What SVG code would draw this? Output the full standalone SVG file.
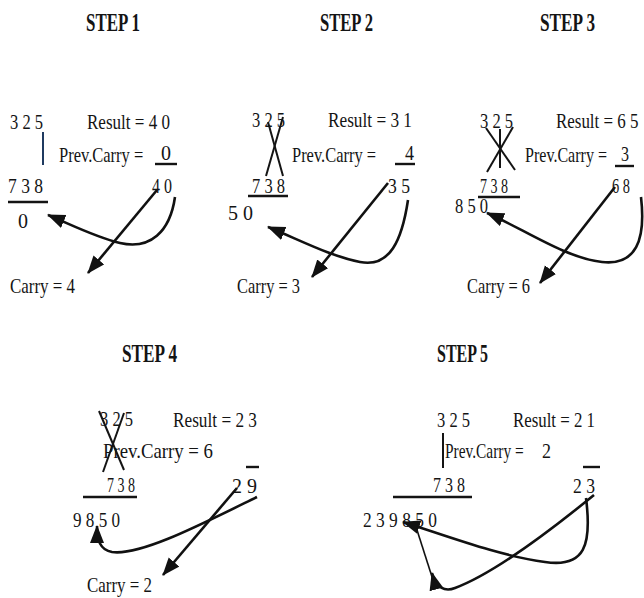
<svg xmlns="http://www.w3.org/2000/svg" width="644" height="598" viewBox="0 0 644 598">
<defs>
<style>
text{font-family:"Liberation Serif","Times New Roman",serif;fill:#141414;font-size:22px}
.h{font-weight:bold;font-size:26px}
.ln{stroke:#141414;stroke-width:2;fill:none}
.ul{stroke:#141414;stroke-width:2.4;fill:none}
.ar{stroke:#111;stroke-width:2.6;fill:none;marker-end:url(#ah)}
.thin{stroke:#111;stroke-width:1.6;fill:none}
</style>
<marker id="ah" markerUnits="userSpaceOnUse" markerWidth="20" markerHeight="16" refX="17" refY="7" orient="auto">
<path d="M0,0 L18,7 L0,14 z" fill="#111"/>
</marker>
</defs>
<g id="titles">
<text class="h" x="86" y="31" textLength="54" lengthAdjust="spacingAndGlyphs">STEP 1</text>
<text class="h" x="320" y="31" textLength="53" lengthAdjust="spacingAndGlyphs">STEP 2</text>
<text class="h" x="540" y="31" textLength="55" lengthAdjust="spacingAndGlyphs">STEP 3</text>
<text class="h" x="122" y="362" textLength="55" lengthAdjust="spacingAndGlyphs">STEP 4</text>
<text class="h" x="437" y="362" textLength="51" lengthAdjust="spacingAndGlyphs">STEP 5</text>
</g>
<g id="step1">
<text x="10" y="129" textLength="33" lengthAdjust="spacingAndGlyphs">3 2 5</text>
<text x="87" y="129" textLength="83" lengthAdjust="spacingAndGlyphs">Result = 4 0</text>
<line x1="43" y1="132" x2="43" y2="165" stroke="#1f3a60" stroke-width="2"/>
<text transform="translate(59,162) scale(0.75,1)">Prev.Carry =</text>
<text x="161" y="160" textLength="10" lengthAdjust="spacingAndGlyphs">0</text>
<line class="ul" x1="155" y1="164" x2="177" y2="164"/>
<text x="8" y="193" textLength="35" lengthAdjust="spacingAndGlyphs">7 3 8</text>
<line class="ul" x1="8" y1="202" x2="48" y2="202"/>
<text x="18" y="228" textLength="10" lengthAdjust="spacingAndGlyphs">0</text>
<text x="152" y="193" textLength="20" lengthAdjust="spacingAndGlyphs">4 0</text>
<text x="10" y="293" textLength="65" lengthAdjust="spacingAndGlyphs">Carry = 4</text>
</g>
<g id="step2">
<text x="252" y="127" textLength="33" lengthAdjust="spacingAndGlyphs">3 2 5</text>
<text x="328" y="127" textLength="84" lengthAdjust="spacingAndGlyphs">Result = 3 1</text>
<line class="ln" x1="268" y1="122" x2="283" y2="176"/>
<line class="ln" x1="283" y1="117" x2="266" y2="176"/>
<text x="292" y="162" textLength="84" lengthAdjust="spacingAndGlyphs">Prev.Carry =</text>
<text x="405" y="160" textLength="9" lengthAdjust="spacingAndGlyphs">4</text>
<line class="ul" x1="395" y1="164" x2="415" y2="164"/>
<text x="252" y="193" textLength="33" lengthAdjust="spacingAndGlyphs">7 3 8</text>
<line class="ul" x1="248" y1="196" x2="288" y2="196"/>
<text x="228" y="220" textLength="25" lengthAdjust="spacingAndGlyphs">5 0</text>
<text x="388" y="193" textLength="22" lengthAdjust="spacingAndGlyphs">3 5</text>
<text x="237" y="293" textLength="63" lengthAdjust="spacingAndGlyphs">Carry = 3</text>
</g>
<g id="step3">
<text x="480" y="128" textLength="33" lengthAdjust="spacingAndGlyphs">3 2 5</text>
<text transform="translate(556,128) scale(0.77,1)">Result = 6 5</text>
<line class="ln" x1="486" y1="128" x2="515" y2="170"/>
<line class="ln" x1="513" y1="127" x2="487" y2="172"/>
<line class="ln" x1="500" y1="129" x2="500" y2="168"/>
<text transform="translate(525,162) scale(0.73,1)">Prev.Carry =</text>
<text x="621" y="161" textLength="8" lengthAdjust="spacingAndGlyphs">3</text>
<line class="ul" x1="615" y1="166" x2="634" y2="166"/>
<text x="480" y="193" textLength="28" lengthAdjust="spacingAndGlyphs">7 3 8</text>
<line class="ul" x1="478" y1="197" x2="520" y2="197"/>
<text x="455" y="213" textLength="33" lengthAdjust="spacingAndGlyphs">8 5 0</text>
<text x="612" y="193" textLength="18" lengthAdjust="spacingAndGlyphs">6 8</text>
<text x="467" y="293" textLength="63" lengthAdjust="spacingAndGlyphs">Carry = 6</text>
</g>
<g id="step4">
<text x="100" y="426" textLength="33" lengthAdjust="spacingAndGlyphs">3 2 5</text>
<text x="173" y="427" textLength="84" lengthAdjust="spacingAndGlyphs">Result = 2 3</text>
<line class="ln" x1="99" y1="411" x2="124" y2="470"/>
<line class="ln" x1="124" y1="413" x2="103" y2="472"/>
<text x="103" y="458" textLength="110" lengthAdjust="spacingAndGlyphs">Prev.Carry =  6</text>
<text x="107" y="492" textLength="28" lengthAdjust="spacingAndGlyphs">7 3 8</text>
<line class="ul" x1="83" y1="497" x2="137" y2="497"/>
<text x="73" y="527" textLength="47" lengthAdjust="spacingAndGlyphs">9 8 5 0</text>
<text x="232" y="493" textLength="25" lengthAdjust="spacingAndGlyphs">2 9</text>
<line class="ul" x1="246" y1="467" x2="259" y2="467"/>
<text x="87" y="592" textLength="65" lengthAdjust="spacingAndGlyphs">Carry = 2</text>
</g>
<g id="step5">
<text x="437" y="427" textLength="33" lengthAdjust="spacingAndGlyphs">3 2 5</text>
<text x="513" y="427" textLength="82" lengthAdjust="spacingAndGlyphs">Result = 2 1</text>
<line x1="443" y1="433" x2="443" y2="468" stroke="#141414" stroke-width="2"/>
<text transform="translate(445,458) scale(0.7,1)">Prev.Carry =</text>
<text x="542" y="458" textLength="9" lengthAdjust="spacingAndGlyphs">2</text>
<text x="433" y="492" textLength="32" lengthAdjust="spacingAndGlyphs">7 3 8</text>
<line class="ul" x1="393" y1="497" x2="472" y2="497"/>
<text x="363" y="527" textLength="74" lengthAdjust="spacingAndGlyphs">2 3 9 8 5 0</text>
<text x="573" y="493" textLength="22" lengthAdjust="spacingAndGlyphs">2 3</text>
<line class="ul" x1="583" y1="467" x2="600" y2="467"/>
</g>
<g id="connectors">
<path class="ar" d="M157,190 L88,273"/>
<path class="ar" d="M175,197 C170,232 150,250 120,243 C95,237 72,225 48,215"/>
<path class="ar" d="M388,183 L312,277"/>
<path class="ar" d="M408,200 C402,240 390,268 360,262 C330,256 300,240 268,227"/>
<path class="ar" d="M615,187 L540,283"/>
<path class="ar" d="M641,197 C646,240 636,266 602,262 C565,258 522,228 487,213"/>
<path class="ar" d="M237,488 L163,575"/>
<path class="ar" d="M257,497 C200,525 140,556 112,552 C100,550 97,540 97,526"/>
<path class="ar" d="M586,498 C592,545 585,568 545,562 C500,556 450,537 403,522"/>
<path class="ar" d="M594,495 C545,535 490,575 455,588 C445,592 436,588 432,573"/>
<path class="thin" d="M417,530 L433,580"/>
</g>
</svg>
